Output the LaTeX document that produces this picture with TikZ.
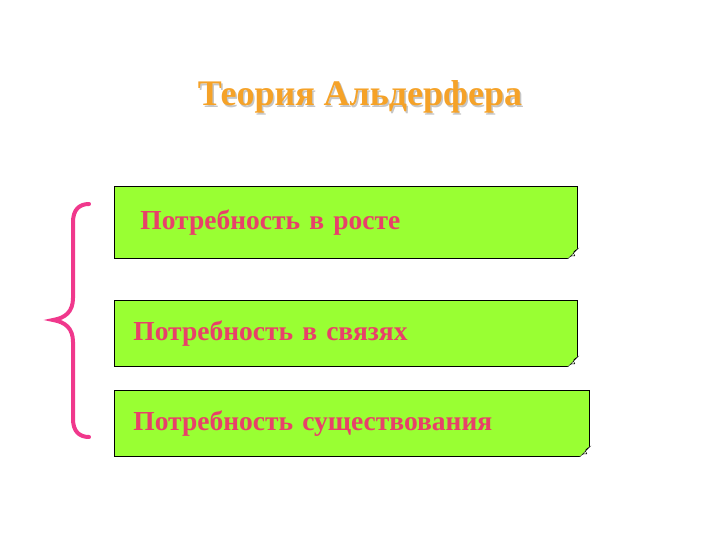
\documentclass[tikz,border=0pt]{standalone}
\usepackage{fontspec}
\setmainfont{Liberation Serif}
\usepackage{tikz}
\usepackage{xcolor}

\definecolor{titleorange}{RGB}{245,162,40}
\definecolor{boxgreen}{RGB}{153,255,51}
\definecolor{textpink}{RGB}{232,64,106}
\definecolor{bracepink}{RGB}{240,56,140}

\tikzset{
	needbox/.style = {draw=black, thick, fill=boxgreen, anchor=north west, align=left,
		font=\bfseries\fontsize{27.5}{30}\selectfont, text=textpink, inner ysep=0pt},
	fold/.style = {fill=white!85!boxgreen, draw=black, thin}
}

\begin{document}
\begin{tikzpicture} [x=1pt, y=-1pt]
		\useasboundingbox (0, 0) rectangle (720, 540);
		% title with shadow
		\node[text=gray!45, font=\bfseries\fontsize{36}{40}\selectfont] at (361.5, 98.5) {Теория Альдерфера};
		\node[text=titleorange, font=\bfseries\fontsize{36}{40}\selectfont] (title) at (360, 97) {Теория Альдерфера};
		% the three needs
		\node[needbox, minimum width=463, minimum height=72, text width=411, inner xsep=26] (grow) at (114, 186) {Потребность в росте};
		\node[needbox, minimum width=463, minimum height=66, text width=425, inner xsep=19] (relate) at (114, 300) {Потребность в связях};
		\node[needbox, minimum width=475, minimum height=66, text width=437, inner xsep=19] (exist) at (114, 390) {Потребность существования};
		% folded corners
		\foreach \b in {grow, relate, exist} {
			\fill[white] ([xshift=-11pt, yshift=-1pt]\b.south east) -- ([xshift=1pt, yshift=-1pt]\b.south east) -- ([xshift=1pt, yshift=11pt]\b.south east) -- cycle;
			\draw[fold] ([xshift=-10pt]\b.south east) -- ([yshift=10pt]\b.south east)
				.. controls ([xshift=-5pt, yshift=7pt]\b.south east) .. ([xshift=-3pt, yshift=3pt]\b.south east)
				.. controls ([xshift=-7pt, yshift=3pt]\b.south east) .. cycle;
		}
		% brace
		\draw[bracepink, line width=4pt, line cap=round]
			(89, 204) .. controls (79, 204) and (73, 210) .. (73, 222)
			-- (73, 298) .. controls (73, 312) and (65, 318) .. (53, 320)
			.. controls (65, 322) and (73, 328) .. (73, 342)
			-- (73, 419) .. controls (73, 431) and (79, 437) .. (89, 437);
	\end{tikzpicture}
\end{document}
